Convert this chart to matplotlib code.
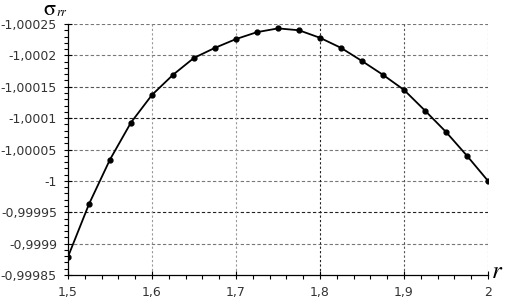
import numpy as np
import matplotlib.pyplot as plt
from matplotlib.ticker import FixedLocator, MultipleLocator

# values
r = [1.5, 1.525, 1.55, 1.575, 1.6, 1.625, 1.65, 1.675, 1.7, 1.725, 1.75,
     1.775, 1.8, 1.825, 1.85, 1.875, 1.9, 1.925, 1.95, 1.975, 2.0]
sigma_rr = [-0.999879, -0.999963, -1.000034, -1.000093, -1.000137, -1.000169,
            -1.000196, -1.000212, -1.000226, -1.000237, -1.000243, -1.000240,
            -1.000228, -1.000212, -1.000191, -1.000169, -1.000145, -1.000112,
            -1.000078, -1.000040, -1.000000]

x_ticks = [1.5, 1.6, 1.7, 1.8, 1.9, 2.0]
x_labels = ['1,5', '1,6', '1,7', '1,8', '1,9', '2']
y_ticks = [-1.00025, -1.0002, -1.00015, -1.0001, -1.00005, -1.0,
           -0.99995, -0.9999, -0.99985]
y_labels = ['-1,00025', '-1,0002', '-1,00015', '-1,0001', '-1,00005', '-1',
            '-0,99995', '-0,9999', '-0,99985']

plt.rcParams['mathtext.fontset'] = 'stix'

fig = plt.figure(figsize=(5.07, 3.03), dpi=100)
ax = fig.add_axes([0.1341, 0.0924, 0.8284, 0.8284])

# dashed grid, some lines darker like in the scan
h_colors = ['#777777', '#777777', '#555555', '#222222', '#777777',
            '#777777', '#222222', '#777777']
for yv, c in zip(y_ticks[:-1], h_colors):
    ax.axhline(yv, color=c, lw=0.8, ls=(0, (3, 2)), zorder=1)
v_colors = ['#999999', '#222222', '#555555', '#777777']
for xv, c in zip(x_ticks[2:], v_colors):
    ax.axvline(xv, color=c, lw=0.8, ls=(0, (2, 2)), zorder=1)
ax.axvline(1.6, color='#999999', lw=0.8, ls=(0, (2, 2)), zorder=1)

ax.plot(r, sigma_rr, color='black', lw=1.3, marker='o', ms=3.5, zorder=3)

ax.set_xlim(1.5, 2.0)
ax.set_ylim(-0.99985, -1.00025)
ax.xaxis.set_major_locator(FixedLocator(x_ticks))
ax.set_xticklabels(x_labels)
ax.xaxis.set_minor_locator(MultipleLocator(0.02))
ax.yaxis.set_major_locator(FixedLocator(y_ticks))
ax.set_yticklabels(y_labels)
ax.yaxis.set_minor_locator(MultipleLocator(0.00001))

ax.tick_params(which='major', direction='inout', length=6, width=0.8,
               labelsize=9, labelcolor='#333333')
ax.tick_params(which='minor', direction='out', length=3, width=0.8)
ax.tick_params(axis='y', which='major', pad=5)
ax.tick_params(axis='x', which='major', pad=5)

for s in ['top', 'right']:
    ax.spines[s].set_visible(False)
for s in ['left', 'bottom']:
    ax.spines[s].set_linewidth(0.9)

fig.text(0.084, 0.952, r'$\mathrm{\sigma}$', fontsize=16, ha='left', va='baseline')
fig.text(0.111, 0.946, r'$rr$', fontsize=9, ha='left', va='baseline')
fig.text(0.98, 0.105, r'$r$', fontsize=18, ha='center', va='center')

fig.savefig('out.png', dpi=100)
